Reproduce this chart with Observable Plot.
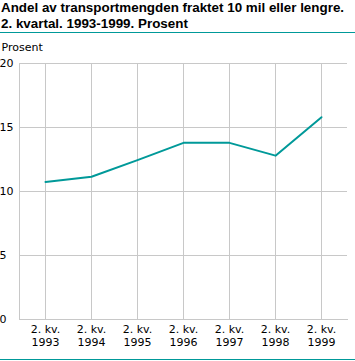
<!DOCTYPE html>
<html>
<head>
<meta charset="utf-8">
<script src="https://cdn.jsdelivr.net/npm/d3@7"></script>
<script src="https://cdn.jsdelivr.net/npm/@observablehq/plot@0.6"></script>
<style>
  html, body { margin: 0; padding: 0; background: #fff; }
  #wrap { width: 355px; height: 361px; position: relative; overflow: hidden; }
  #title { font-family: "Liberation Sans", Arial, sans-serif; font-weight: bold; font-size: 13.4px;
           line-height: 16px; height: 33px; box-sizing: border-box; padding: 0 0 0 1px;
           border-bottom: 1px solid #009999; color: #000; white-space: nowrap; }
  #chart svg { display: block; }
  #bottom { height: 1px; background: #009999; }
</style>
</head>
<body>
<div id="wrap">
  <div id="title">Andel av transportmengden fraktet 10 mil eller lengre.<br>2. kvartal. 1993-1999. Prosent</div>
  <div id="chart"></div>
  <div id="bottom"></div>
</div>
<script>
const categories = ["2. kv.\n1993", "2. kv.\n1994", "2. kv.\n1995", "2. kv.\n1996", "2. kv.\n1997", "2. kv.\n1998", "2. kv.\n1999"];
const values = [10.75, 11.15, 12.45, 13.8, 13.8, 12.8, 15.8];
const yTicks = [0, 5, 10, 15, 20];
const yLabel = "Prosent";

const data = categories.map((c, i) => ({cat: c, value: values[i]}));

const chart = Plot.plot({
  width: 355,
  height: 326,
  marginLeft: 19,
  marginRight: 8,
  marginTop: 30,
  marginBottom: 40,
  style: {fontFamily: "'DejaVu Sans', Verdana, sans-serif", fontSize: "11px", color: "#000", background: "#fff"},
  x: {type: "point", domain: categories, padding: 0.5},
  y: {domain: [0, 20]},
  marks: [
    Plot.gridY(yTicks, {stroke: "#c8c8c8", strokeOpacity: 1}),
    Plot.gridX(categories, {stroke: "#c8c8c8", strokeOpacity: 1}),
    Plot.frame({anchor: "left", stroke: "#c8c8c8"}),
    Plot.frame({anchor: "bottom", stroke: "#c8c8c8"}),
    Plot.axisY(yTicks, {tickSize: 0, textAnchor: "start", dx: -11, label: null, fontSize: 11}),
    Plot.axisX({tickSize: 0, tickPadding: 5, label: null, fontSize: 11, lineHeight: 1.15}),
    Plot.text([yLabel], {frameAnchor: "top-left", textAnchor: "start", dx: -18, dy: -20, fontSize: 11, fill: "#000"}),
    Plot.line(data, {x: "cat", y: "value", stroke: "#009999", strokeWidth: 2})
  ]
});
document.getElementById("chart").appendChild(chart);
</script>
</body>
</html>
